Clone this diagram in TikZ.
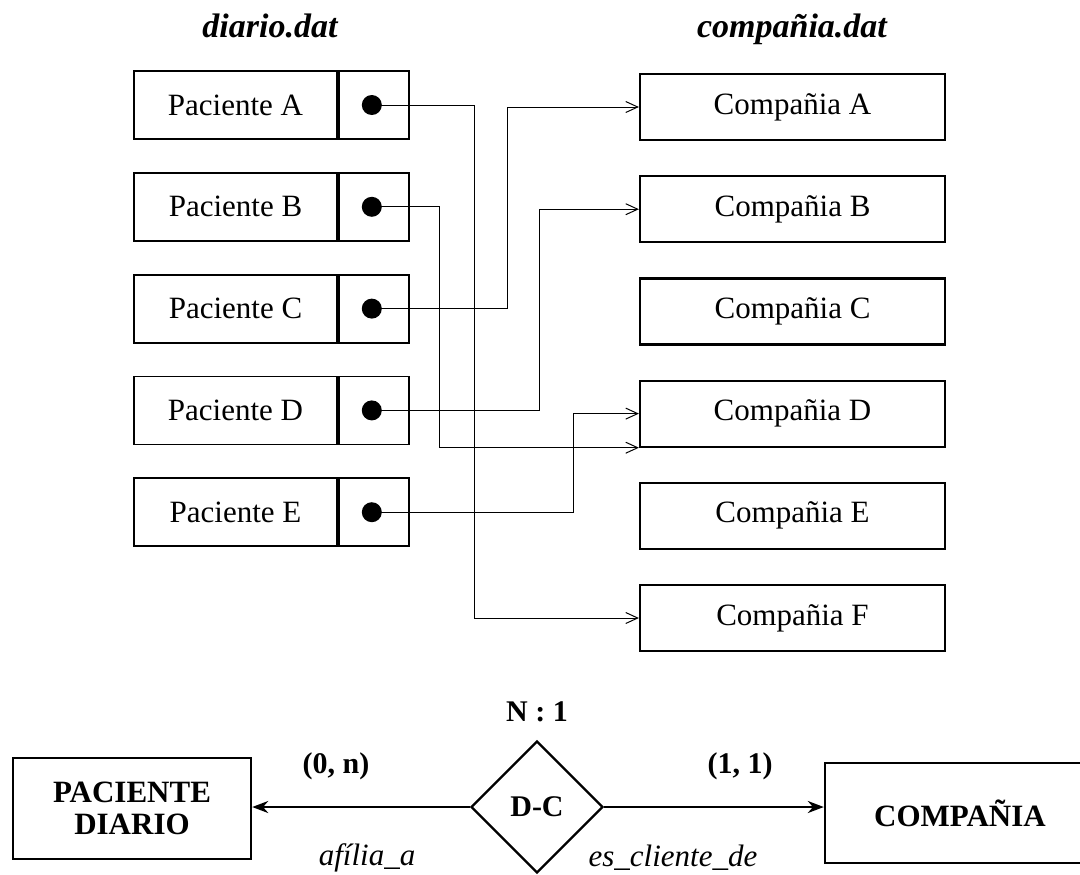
\documentclass[tikz,border=0pt]{standalone}
\usepackage{fontspec}
\setmainfont{Liberation Serif}
\usetikzlibrary{positioning, arrows.meta, calc, shapes.geometric}

\begin{document}
\begin{tikzpicture}[
    x=0.5pt, y=-0.5pt,
    font=\fontsize{15.5}{18}\selectfont,
    regbox/.style={rectangle, draw, line width=0.9pt, minimum width=101.5pt,
      minimum height=34pt, inner sep=0pt},
    ptrbox/.style={rectangle, draw, line width=0.9pt, minimum width=35pt,
      minimum height=34pt, inner sep=0pt},
    compbox/.style={rectangle, draw, line width=1.1pt, minimum width=152.5pt,
      minimum height=33pt, inner sep=0pt},
    dotmark/.style={circle, fill, inner sep=0pt, minimum size=10pt},
    ptr/.style={-{Straight Barb[length=6pt, width=5.5pt]}, line width=0.5pt},
    entity/.style={rectangle, draw, line width=1.2pt, align=center, inner sep=0pt,
      font=\fontsize{15.5}{16}\selectfont\bfseries},
    rel/.style={diamond, draw, line width=1.2pt, aspect=1, inner sep=0pt,
      minimum width=66pt, minimum height=66pt, font=\fontsize{15}{18}\selectfont\bfseries},
    link/.style={-{Stealth[length=8pt, width=6pt]}, line width=1.3pt},
    card/.style={font=\fontsize{15}{18}\selectfont\bfseries},
    role/.style={font=\fontsize{15.5}{18}\selectfont\itshape},
    title/.style={font=\fontsize{17}{20}\selectfont\bfseries\itshape, anchor=base}
  ]

  \useasboundingbox (0,0) rectangle (1080,874);
  \clip (0,0) rectangle (1080,874);

  % --- diario.dat ---
  \node[title] (titDiario) at (270,37) {diario.dat};
  \node[regbox] (pacA) at (235.5,105) {Paciente A};
  \node[regbox, below=16pt of pacA] (pacB) {Paciente B};
  \node[regbox, below=16pt of pacB] (pacC) {Paciente C};
  \node[regbox, below=16pt of pacC] (pacD) {Paciente D};
  \node[regbox, below=16pt of pacD] (pacE) {Paciente E};

  \node[ptrbox, right=0pt of pacA] (ptrA) {};
  \node[ptrbox, right=0pt of pacB] (ptrB) {};
  \node[ptrbox, right=0pt of pacC] (ptrC) {};
  \node[ptrbox, right=0pt of pacD] (ptrD) {};
  \node[ptrbox, right=0pt of pacE] (ptrE) {};

  \node[dotmark] (dotA) at ([xshift=-1pt]ptrA.center) {};
  \node[dotmark] (dotB) at ([xshift=-1pt]ptrB.center) {};
  \node[dotmark] (dotC) at ([xshift=-1pt]ptrC.center) {};
  \node[dotmark] (dotD) at ([xshift=-1pt]ptrD.center) {};
  \node[dotmark] (dotE) at ([xshift=-1pt]ptrE.center) {};

  % --- compañia.dat ---
  \node[title] (titComp) at (792,37) {compañia.dat};
  \node[compbox] (compA) at (792.5,107) {Compañia A};
  \node[compbox, below=17pt of compA] (compB) {Compañia B};
  \node[compbox, below=17pt of compB] (compC) {Compañia C};
  \node[compbox, below=17pt of compC] (compD) {Compañia D};
  \node[compbox, below=17pt of compD] (compE) {Compañia E};
  \node[compbox, below=17pt of compE] (compF) {Compañia F};

  % punteros
  \draw[ptr] (dotA.center) -- ++(103,0) |- (compF.west);
  \draw[ptr] (dotB.center) -- ++(68,0) |- (compD.south west);
  \draw[ptr] (dotC.center) -- ++(136,0) |- (compA.west);
  \draw[ptr] (dotD.center) -- ++(168,0) |- (compB.west);
  \draw[ptr] (dotE.center) -- ++(202,0) |- (compD.west);

  % --- modelo E-R ---
  \node[entity, minimum width=119pt, minimum height=50.5pt] (pacDiario) at (132,808.5) {PACIENTE\\DIARIO};
  \node[rel] (relDC) at (537,807) {D-C};
  \node[entity, minimum width=135pt, minimum height=50pt] (compER) at (960,813) {COMPAÑIA};

  \draw[link] (relDC.west) -- (relDC.west -| pacDiario.east);
  \draw[link] (relDC.east) -- (relDC.east -| compER.west);

  \node[card] (cardNU) at (537,712) {N : 1};
  \node[card] (cardPac) at (336,766) {(0, n)};
  \node[card] (cardComp) at (740,766) {(1, 1)};
  \node[role] (rolAfil) at (367,858) {afília\_a};
  \node[role] (rolCli) at (673,858) {es\_cliente\_de};

\end{tikzpicture}
\end{document}
